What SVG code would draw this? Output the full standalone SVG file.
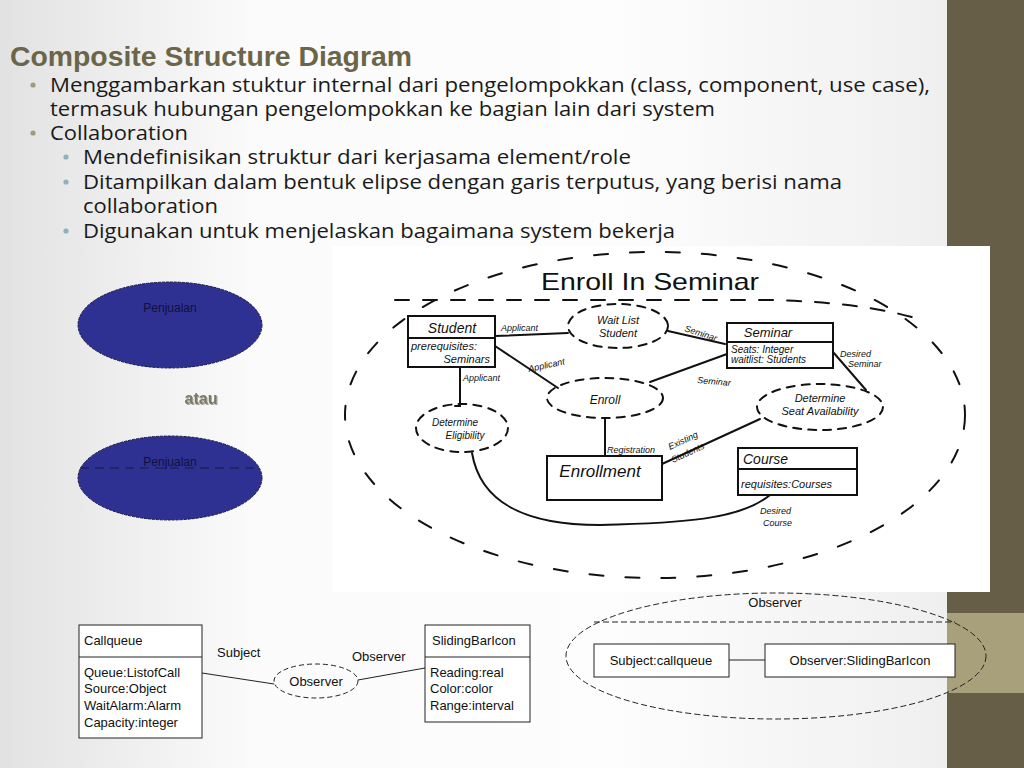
<svg xmlns="http://www.w3.org/2000/svg" width="1024" height="768" viewBox="0 0 1024 768">
<defs>
<linearGradient id="bg" x1="0" y1="0" x2="1" y2="0">
<stop offset="0" stop-color="#e2e2e2"/>
<stop offset="0.25" stop-color="#fbfbfb"/>
<stop offset="0.6" stop-color="#fdfdfd"/>
<stop offset="1" stop-color="#ececec"/>
</linearGradient>
<filter id="sh" x="-10%" y="-10%" width="130%" height="140%">
<feDropShadow dx="1" dy="1" stdDeviation="0.6" flood-color="#000" flood-opacity="0.35"/>
</filter>
<style>
.title{font-family:"Liberation Sans",Arial,sans-serif;font-weight:bold;font-size:27px;fill:#6b6549}
.b{font-family:"Open Sans","Noto Sans",sans-serif;font-size:20px;fill:#1a1a1a}
.sans{font-family:"Liberation Sans",Arial,sans-serif;font-size:13px;fill:#111}
.hand{font-family:"Liberation Sans",Arial,sans-serif;fill:#111}
.ink{fill:none;stroke:#111;stroke-width:2;stroke-linecap:round}
.inkd{fill:none;stroke:#111;stroke-width:2;stroke-linecap:round;stroke-dasharray:9 9}
.box{fill:#fff;stroke:#222;stroke-width:1}
.thin{fill:none;stroke:#222;stroke-width:1}
.dash{fill:none;stroke:#222;stroke-width:1;stroke-dasharray:5 3}
</style>
</defs>
<rect x="0" y="0" width="1024" height="768" fill="url(#bg)"/>
<!-- right sidebar -->
<rect x="947" y="0" width="77" height="768" fill="#665e47"/>
<rect x="947" y="613" width="77" height="80" fill="#a8a07a"/>

<!-- header text -->
<text class="title" x="10" y="66" textLength="402" lengthAdjust="spacingAndGlyphs">Composite Structure Diagram</text>
<g class="b">
<circle cx="33" cy="85" r="2.6" fill="#a39c7c"/>
<text x="50" y="92" textLength="880" lengthAdjust="spacingAndGlyphs">Menggambarkan stuktur internal dari pengelompokkan (class, component, use case),</text>
<text x="50" y="116" textLength="665" lengthAdjust="spacingAndGlyphs">termasuk hubungan pengelompokkan ke bagian lain dari system</text>
<circle cx="33" cy="133" r="2.6" fill="#a39c7c"/>
<text x="50" y="140" textLength="138" lengthAdjust="spacingAndGlyphs">Collaboration</text>
<circle cx="66" cy="157" r="2.6" fill="#8fb1bd"/>
<text x="83" y="164" textLength="548" lengthAdjust="spacingAndGlyphs">Mendefinisikan struktur dari kerjasama element/role</text>
<circle cx="66" cy="182" r="2.6" fill="#8fb1bd"/>
<text x="83" y="189" textLength="759" lengthAdjust="spacingAndGlyphs">Ditampilkan dalam bentuk elipse dengan garis terputus, yang berisi nama</text>
<text x="83" y="213" textLength="135" lengthAdjust="spacingAndGlyphs">collaboration</text>
<circle cx="66" cy="231" r="2.6" fill="#8fb1bd"/>
<text x="83" y="238" textLength="592" lengthAdjust="spacingAndGlyphs">Digunakan untuk menjelaskan bagaimana system bekerja</text>
</g>

<!-- Penjualan ellipses -->
<g id="penjualan1">
<ellipse cx="170" cy="325" rx="92" ry="43" fill="#2f3192" stroke="#1a1a40" stroke-width="1" stroke-dasharray="3 1"/>
<text class="sans" x="170" y="312" text-anchor="middle" style="fill:#101040;font-size:12px">Penjualan</text>
</g>
<text x="201" y="404" text-anchor="middle" font-family="Liberation Sans,Arial,sans-serif" font-weight="bold" font-size="16" fill="#7d7a64" filter="url(#sh)">atau</text>
<g id="penjualan2">
<ellipse cx="170" cy="478" rx="92" ry="42" fill="#2f3192" stroke="#1a1a40" stroke-width="1" stroke-dasharray="3 1"/>
<line x1="80" y1="468" x2="260" y2="468" stroke="#1a1a40" stroke-width="1" stroke-dasharray="9 6"/>
<text class="sans" x="170" y="466" text-anchor="middle" style="fill:#101040;font-size:12px">Penjualan</text>
</g>

<!-- hand-drawn picture -->
<rect x="332" y="246" width="658" height="346" fill="#ffffff"/>
<g id="enroll-in-seminar">
<ellipse cx="655" cy="415" rx="310" ry="163" class="inkd" style="stroke-dasharray:14 22"/>
<path d="M395 300 L770 300 Q 860 302 915 318" class="inkd" style="stroke-dasharray:14 14"/>
<text class="hand" x="541" y="290" font-size="24" textLength="218" lengthAdjust="spacingAndGlyphs">Enroll In Seminar</text>
</g>
<g id="student">
<rect x="408" y="316" width="87" height="51" fill="#fff" stroke="#111" stroke-width="2"/>
<line x1="408" y1="338" x2="495" y2="338" stroke="#111" stroke-width="2"/>
<text class="hand" x="452" y="333" text-anchor="middle" font-size="14" font-style="italic">Student</text>
<text class="hand" x="411" y="350" font-size="11" font-style="italic">prerequisites:</text>
<text class="hand" x="490" y="363" text-anchor="end" font-size="11" font-style="italic">Seminars</text>
</g>
<g id="waitlist">
<ellipse cx="618" cy="326" rx="50" ry="22" fill="#fff" class="inkd" style="stroke-dasharray:8 7"/>
<text class="hand" x="618" y="324" text-anchor="middle" font-size="11" font-style="italic">Wait List</text>
<text class="hand" x="618" y="337" text-anchor="middle" font-size="11" font-style="italic">Student</text>
</g>
<g id="seminar">
<rect x="727" y="323" width="106" height="45" fill="#fff" stroke="#111" stroke-width="2"/>
<line x1="727" y1="342" x2="833" y2="342" stroke="#111" stroke-width="2"/>
<text class="hand" x="768" y="337" text-anchor="middle" font-size="13" font-style="italic">Seminar</text>
<text class="hand" x="731" y="353" font-size="10" font-style="italic">Seats: Integer</text>
<text class="hand" x="731" y="363" font-size="10" font-style="italic">waitlist: Students</text>
</g>
<g id="enroll">
<ellipse cx="605" cy="398" rx="58" ry="20" fill="#fff" class="inkd" style="stroke-dasharray:8 7"/>
<text class="hand" x="605" y="404" text-anchor="middle" font-size="12" font-style="italic">Enroll</text>
</g>
<g id="elig">
<ellipse cx="462" cy="428" rx="46" ry="24" fill="#fff" class="inkd" style="stroke-dasharray:8 7"/>
<text class="hand" x="455" y="426" text-anchor="middle" font-size="10" font-style="italic">Determine</text>
<text class="hand" x="465" y="439" text-anchor="middle" font-size="10" font-style="italic">Eligibility</text>
</g>
<g id="seat">
<ellipse cx="820" cy="407" rx="63" ry="23" fill="#fff" class="inkd" style="stroke-dasharray:8 7"/>
<text class="hand" x="820" y="402" text-anchor="middle" font-size="11" font-style="italic">Determine</text>
<text class="hand" x="820" y="415" text-anchor="middle" font-size="11" font-style="italic">Seat Availability</text>
</g>
<g id="enrollment">
<rect x="547" y="456" width="115" height="44" fill="#fff" stroke="#111" stroke-width="2"/>
<text class="hand" x="600" y="477" text-anchor="middle" font-size="17" font-style="italic">Enrollment</text>
</g>
<g id="course">
<rect x="738" y="448" width="119" height="47" fill="#fff" stroke="#111" stroke-width="2"/>
<line x1="738" y1="469" x2="857" y2="469" stroke="#111" stroke-width="2"/>
<text class="hand" x="743" y="464" font-size="14" font-style="italic">Course</text>
<text class="hand" x="741" y="488" font-size="11" font-style="italic">requisites:Courses</text>
</g>
<g id="hand-connectors" class="ink">
<line x1="495" y1="336" x2="568" y2="333"/>
<line x1="668" y1="331" x2="725" y2="344"/>
<line x1="495" y1="346" x2="558" y2="388"/>
<line x1="650" y1="382" x2="727" y2="354"/>
<path d="M460 367 L460 406 L455 406"/>
<line x1="605" y1="418" x2="605" y2="456"/>
<line x1="662" y1="464" x2="760" y2="419"/>
<line x1="833" y1="352" x2="866" y2="390"/>
<path d="M472 453 C 480 500, 520 525, 600 525 C 680 523, 740 520, 770 495"/>
</g>
<g class="hand" font-size="9" font-style="italic">
<text x="501" y="331">Applicant</text>
<text x="529" y="372" transform="rotate(-12 529 372)">Applicant</text>
<text x="463" y="381">Applicant</text>
<text x="684" y="331" transform="rotate(18 684 331)">Seminar</text>
<text x="697" y="383" transform="rotate(5 697 383)">Seminar</text>
<text x="607" y="453">Registration</text>
<text x="670" y="450" transform="rotate(-25 670 450)">Existing</text>
<text x="673" y="463" transform="rotate(-25 673 463)">Students</text>
<text x="840" y="357">Desired</text>
<text x="848" y="367">Seminar</text>
<text x="760" y="514">Desired</text>
<text x="763" y="526">Course</text>
</g>

<!-- bottom left observer -->
<g id="callqueue">
<rect x="79" y="625" width="123" height="113" class="box"/>
<line x1="79" y1="657" x2="202" y2="657" class="thin"/>
<text class="sans" x="84" y="645">Callqueue</text>
<text class="sans" x="84" y="677">Queue:ListofCall</text>
<text class="sans" x="84" y="693">Source:Object</text>
<text class="sans" x="84" y="710">WaitAlarm:Alarm</text>
<text class="sans" x="84" y="727">Capacity:integer</text>
</g>
<g id="slidingbaricon">
<rect x="425" y="625" width="105" height="97" class="box"/>
<line x1="425" y1="657" x2="530" y2="657" class="thin"/>
<text class="sans" x="432" y="645">SlidingBarIcon</text>
<text class="sans" x="430" y="677">Reading:real</text>
<text class="sans" x="430" y="693">Color:color</text>
<text class="sans" x="430" y="710">Range:interval</text>
</g>
<g id="observer-collab">
<ellipse cx="316" cy="681" rx="42" ry="17" fill="#fff" class="dash"/>
<text class="sans" x="316" y="686" text-anchor="middle">Observer</text>
</g>
<g id="connectors" class="thin">
<line x1="202" y1="673" x2="274" y2="684"/>
<line x1="358" y1="680" x2="425" y2="668"/>
<line x1="729" y1="660" x2="765" y2="660"/>
</g>
<text class="sans" x="217" y="657">Subject</text>
<text class="sans" x="352" y="661">Observer</text>

<!-- bottom right collaboration -->
<g id="observer-big">
<ellipse cx="776" cy="656" rx="210" ry="63" fill="#fff" class="dash" style="stroke-dasharray:6 3"/>
<line x1="594" y1="622" x2="955" y2="622" class="dash" style="stroke-dasharray:6 3"/>
<text class="sans" x="775" y="607" text-anchor="middle">Observer</text>
</g>
<g id="subject-callqueue">
<rect x="594" y="644" width="135" height="33" class="box"/>
<text class="sans" x="661" y="665" text-anchor="middle">Subject:callqueue</text>
</g>
<g id="observer-sliding">
<rect x="765" y="644" width="190" height="33" class="box"/>
<text class="sans" x="860" y="665" text-anchor="middle">Observer:SlidingBarIcon</text>
</g>
</svg>
